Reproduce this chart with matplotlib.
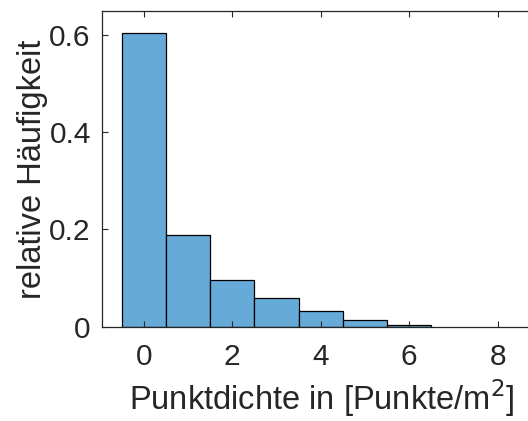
import matplotlib
matplotlib.use("Agg")
import matplotlib.pyplot as plt

# relative frequency per point-density bin (bin centres 0..6)
bin_centres = [0, 1, 2, 3, 4, 5, 6]
rel_freq = [0.604, 0.188, 0.095, 0.058, 0.032, 0.014, 0.003]
xticks = [0, 2, 4, 6, 8]
yticks = [0, 0.2, 0.4, 0.6]
ytick_labels = ["0", "0.2", "0.4", "0.6"]

plt.rcParams['font.family'] = ['Liberation Sans', 'DejaVu Sans']

GRAY = (0.15, 0.15, 0.15)
BAR = (0.4, 0.668, 0.845)

fig = plt.figure(figsize=(5.28, 4.21), dpi=100)
# axes run past the right edge of the picture (as in the cropped original)
ax = fig.add_axes([0.193, 0.224, 0.833, 0.750])

ax.bar(bin_centres, rel_freq, width=1.0, color=BAR, edgecolor='black', linewidth=0.9)

ax.set_xlim(-0.95, 9.0)
ax.set_ylim(0, 0.649)
ax.set_xticks(xticks)
ax.set_yticks(yticks)
ax.set_yticklabels(ytick_labels)

for s in ['left', 'bottom', 'top']:
    ax.spines[s].set_color(GRAY)
    ax.spines[s].set_linewidth(0.9)
ax.spines['right'].set_visible(False)

ax.tick_params(axis='both', direction='in', length=4, width=0.8, colors=GRAY,
               labelsize=21.5, top=True, right=False)
ax.tick_params(axis='x', pad=12)
ax.tick_params(axis='y', pad=8)

ax.set_xlabel(r'Punktdichte in [Punkte/m$^2$]', fontsize=23.5, color=GRAY, labelpad=4)
ax.set_ylabel('relative Häufigkeit', fontsize=23.5, color=GRAY, labelpad=1)

fig.savefig('out.png', dpi=100)
